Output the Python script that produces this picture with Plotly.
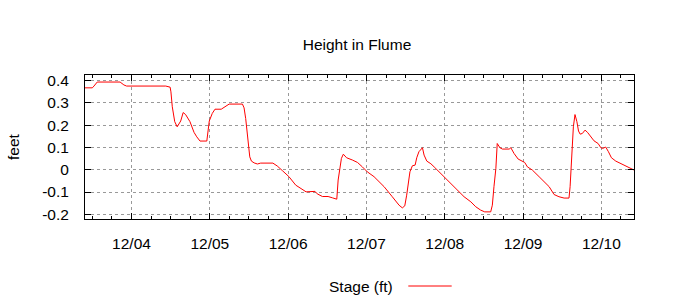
import plotly.graph_objects as go

# ---- data ----
times = [
    "2009-12-03 09:45", "2009-12-03 12:00", "2009-12-03 12:30", "2009-12-03 13:30",
    "2009-12-03 20:30", "2009-12-03 21:40", "2009-12-03 22:30", "2009-12-04 10:30",
    "2009-12-04 11:50", "2009-12-04 12:05", "2009-12-04 12:30", "2009-12-04 13:15",
    "2009-12-04 14:00", "2009-12-04 15:05", "2009-12-04 15:50", "2009-12-04 16:35",
    "2009-12-04 17:55", "2009-12-04 19:10", "2009-12-04 20:00", "2009-12-04 21:00",
    "2009-12-04 23:05", "2009-12-04 23:25", "2009-12-04 23:50", "2009-12-05 00:45",
    "2009-12-05 01:35", "2009-12-05 03:30", "2009-12-05 04:50", "2009-12-05 05:55",
    "2009-12-05 10:00", "2009-12-05 10:30", "2009-12-05 11:00", "2009-12-05 11:30",
    "2009-12-05 11:50", "2009-12-05 12:15", "2009-12-05 12:45", "2009-12-05 13:35",
    "2009-12-05 14:35", "2009-12-05 15:35", "2009-12-05 19:20", "2009-12-05 20:40",
    "2009-12-05 22:15", "2009-12-06 00:15", "2009-12-06 02:20", "2009-12-06 04:20",
    "2009-12-06 05:30", "2009-12-06 08:15", "2009-12-06 08:55", "2009-12-06 10:30",
    "2009-12-06 12:15", "2009-12-06 13:35", "2009-12-06 14:55", "2009-12-06 15:20",
    "2009-12-06 15:50", "2009-12-06 16:20", "2009-12-06 16:55", "2009-12-06 17:55",
    "2009-12-06 19:40", "2009-12-06 21:15", "2009-12-06 22:45", "2009-12-07 00:15",
    "2009-12-07 02:20", "2009-12-07 05:25", "2009-12-07 07:55", "2009-12-07 10:00",
    "2009-12-07 11:00", "2009-12-07 11:45", "2009-12-07 12:20", "2009-12-07 12:50",
    "2009-12-07 13:20", "2009-12-07 14:05", "2009-12-07 14:55", "2009-12-07 15:25",
    "2009-12-07 16:05", "2009-12-07 17:10", "2009-12-07 17:40", "2009-12-07 18:30",
    "2009-12-07 19:45", "2009-12-07 20:45", "2009-12-07 22:15", "2009-12-07 23:45",
    "2009-12-08 01:50", "2009-12-08 03:50", "2009-12-08 05:55", "2009-12-08 08:00",
    "2009-12-08 09:30", "2009-12-08 11:00", "2009-12-08 12:15", "2009-12-08 14:05",
    "2009-12-08 14:35", "2009-12-08 15:05", "2009-12-08 15:40", "2009-12-08 16:05",
    "2009-12-08 16:55", "2009-12-08 17:40", "2009-12-08 19:45", "2009-12-08 20:15",
    "2009-12-08 21:15", "2009-12-08 22:30", "2009-12-08 23:30", "2009-12-09 00:30",
    "2009-12-09 01:20", "2009-12-09 02:50", "2009-12-09 04:55", "2009-12-09 06:25",
    "2009-12-09 08:00", "2009-12-09 09:30", "2009-12-09 11:00", "2009-12-09 12:35",
    "2009-12-09 14:05", "2009-12-09 14:25", "2009-12-09 14:45", "2009-12-09 15:05",
    "2009-12-09 15:25", "2009-12-09 15:55", "2009-12-09 16:30", "2009-12-09 17:00",
    "2009-12-09 17:30", "2009-12-09 18:10", "2009-12-09 19:00", "2009-12-09 19:45",
    "2009-12-09 20:45", "2009-12-09 21:45", "2009-12-09 23:00", "2009-12-09 23:50",
    "2009-12-10 00:25", "2009-12-10 01:20", "2009-12-10 02:10", "2009-12-10 03:05",
    "2009-12-10 04:25", "2009-12-10 05:55", "2009-12-10 07:30", "2009-12-10 09:00",
    "2009-12-10 10:00",
]
stage_ft = [
    0.368, 0.368, 0.376, 0.394,
    0.394, 0.381, 0.376, 0.376,
    0.371, 0.350, 0.283, 0.216,
    0.193, 0.219, 0.257, 0.248,
    0.216, 0.168, 0.148, 0.129,
    0.129, 0.178, 0.219, 0.253,
    0.272, 0.272, 0.287, 0.295,
    0.295, 0.278, 0.230, 0.163,
    0.111, 0.058, 0.039, 0.031,
    0.026, 0.030, 0.030, 0.017,
    -0.004, -0.031, -0.069, -0.088,
    -0.099, -0.097, -0.108, -0.120,
    -0.120, -0.126, -0.132, -0.046,
    0.013, 0.051, 0.070, 0.054,
    0.044, 0.033, 0.013, -0.009,
    -0.031, -0.076, -0.121, -0.159,
    -0.171, -0.162, -0.114, -0.069,
    -0.009, 0.018, 0.021, 0.054,
    0.081, 0.099, 0.066, 0.039,
    0.027, 0.013, -0.009, -0.031,
    -0.061, -0.091, -0.121, -0.144,
    -0.166, -0.181, -0.189, -0.189,
    -0.159, -0.076, 0.006, 0.118,
    0.099, 0.093, 0.093, 0.099,
    0.073, 0.048, 0.039, 0.033,
    0.013, -0.001, -0.031, -0.054,
    -0.076, -0.111, -0.121, -0.127,
    -0.127, -0.076, 0.036, 0.133,
    0.193, 0.248, 0.216, 0.174,
    0.160, 0.163, 0.178, 0.168,
    0.148, 0.130, 0.118, 0.099,
    0.096, 0.102, 0.081, 0.054,
    0.039, 0.028, 0.018, 0.006,
    -0.001,
]
x_tick_vals = ["2009-12-04", "2009-12-05", "2009-12-06", "2009-12-07",
               "2009-12-08", "2009-12-09", "2009-12-10"]
x_tick_text = ["12/04", "12/05", "12/06", "12/07", "12/08", "12/09", "12/10"]
y_tick_vals = [0.4, 0.3, 0.2, 0.1, 0.0, -0.1, -0.2]
y_tick_text = ["0.4", "0.3", "0.2", "0.1", "0", "-0.1", "-0.2"]

FONT = "Liberation Sans, Arial, sans-serif"
FS = 15.5

fig = go.Figure()
fig.add_trace(go.Scatter(
    x=times, y=stage_ft, mode="lines", name="Stage (ft)",
    line=dict(color="#ff0000", width=1), showlegend=False,
))

fig.update_layout(
    width=700, height=300,
    margin=dict(l=85, r=66, t=75, b=81),
    paper_bgcolor="white", plot_bgcolor="white",
    font=dict(family=FONT, size=FS, color="black"),
    title=dict(text="Height in Flume", x=357 / 700, xref="container", xanchor="center",
               y=1 - 45 / 300, yref="container", yanchor="middle",
               font=dict(family=FONT, size=FS, color="black")),
    xaxis=dict(
        type="date",
        range=["2009-12-03 09:45", "2009-12-10 10:00"],
        tickmode="array", tickvals=x_tick_vals, ticktext=x_tick_text,
        ticks="inside", ticklen=6, tickcolor="black", tickwidth=1,
        ticklabelstandoff=10,
        showline=True, linecolor="black", linewidth=1, mirror="ticks",
        showgrid=True, gridcolor="#999999", gridwidth=1, griddash="3px,3px",
        zeroline=False,
        minor=dict(dtick=6 * 3600 * 1000, tick0="2009-12-04", ticks="inside",
                   ticklen=3, tickcolor="black", showgrid=False),
        tickfont=dict(family=FONT, size=FS, color="black"),
    ),
    yaxis=dict(
        range=[-0.221, 0.4256],
        tickmode="array", tickvals=y_tick_vals, ticktext=y_tick_text,
        ticks="inside", ticklen=6, tickcolor="black", tickwidth=1,
        ticklabelstandoff=12,
        showline=True, linecolor="black", linewidth=1, mirror="ticks",
        showgrid=True, gridcolor="#999999", gridwidth=1, griddash="3px,3px",
        zeroline=False,
        title=dict(text="feet", standoff=18, font=dict(family=FONT, size=FS, color="black")),
        tickfont=dict(family=FONT, size=FS, color="black"),
    ),
)

# gnuplot-style key: text on the left, line sample on the right
legend_y = (219 - 286) / 144
fig.add_annotation(text="Stage (ft)", xref="paper", yref="paper",
                   x=(394.5 - 85) / 549, y=legend_y, xanchor="right", yanchor="middle",
                   showarrow=False, font=dict(family=FONT, size=FS, color="black"))
fig.add_shape(type="line", xref="paper", yref="paper",
              x0=(408.3 - 85) / 549, x1=(451.7 - 85) / 549, y0=legend_y, y1=legend_y,
              line=dict(color="#ff0000", width=1))

fig.write_html("out.html")
